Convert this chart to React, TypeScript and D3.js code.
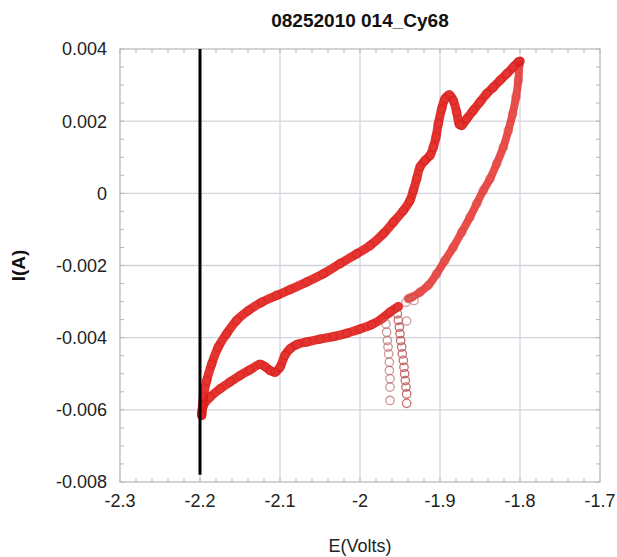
import React from "react";
import * as d3 from "d3";

const title = "08252010 014_Cy68";
const xTicks = [-2.3, -2.2, -2.1, -2.0, -1.9, -1.8, -1.7];
const xTickLabels = ["-2.3", "-2.2", "-2.1", "-2", "-1.9", "-1.8", "-1.7"];
const yTicks = [0.004, 0.002, 0, -0.002, -0.004, -0.006, -0.008];
const yTickLabels = ["0.004", "0.002", "0", "-0.002", "-0.004", "-0.006", "-0.008"];

// forward scan (upper branch), -2.2 V -> -1.8 V
const upperE = [-2.1979, -2.1958, -2.1917, -2.1854, -2.1771, -2.1667, -2.1542, -2.1396, -2.1229, -2.1042, -2.0875, -2.0667, -2.0458, -2.025, -2.0042, -1.9875, -1.9708, -1.9583, -1.9458, -1.9375, -1.9333, -1.9292, -1.925, -1.9188, -1.9125, -1.9083, -1.905, -1.9021, -1.8979, -1.8938, -1.8883, -1.8833, -1.8792, -1.8758, -1.8729, -1.8667, -1.8583, -1.85, -1.8417, -1.8333, -1.825, -1.8167, -1.8083, -1.8021, -1.8];
const upperI = [-0.00616, -0.00565, -0.00519, -0.00473, -0.00426, -0.00389, -0.00352, -0.00325, -0.00302, -0.00283, -0.00267, -0.00246, -0.00223, -0.00195, -0.00168, -0.00145, -0.00112, -0.0008, -0.00048, -0.0002, 0.00008, 0.0004, 0.00073, 0.00091, 0.00105, 0.00128, 0.00156, 0.00193, 0.00234, 0.00262, 0.00273, 0.00257, 0.00225, 0.00191, 0.00188, 0.00206, 0.0023, 0.00253, 0.00276, 0.00294, 0.00313, 0.00331, 0.0035, 0.00364, 0.00366];

// reverse scan, first segment (-1.8 V -> -1.94 V)
const lowerE1 = [-1.8008, -1.8021, -1.805, -1.8092, -1.8146, -1.8208, -1.8292, -1.8375, -1.8458, -1.8542, -1.8625, -1.8729, -1.8833, -1.8938, -1.9042, -1.9146, -1.925, -1.9354, -1.9396];
const lowerI1 = [0.00359, 0.00313, 0.00267, 0.0022, 0.00174, 0.00128, 0.00082, 0.0004, 0.00008, -0.00029, -0.00066, -0.00108, -0.00149, -0.00186, -0.00223, -0.00255, -0.00274, -0.00288, -0.00292];

// reverse scan, second segment (-1.95 V -> -2.2 V)
const lowerE2 = [-1.9521, -1.9625, -1.9729, -1.9854, -2.0, -2.0167, -2.0333, -2.05, -2.0667, -2.0792, -2.0875, -2.0938, -2.1, -2.1063, -2.1125, -2.1188, -2.125, -2.1375, -2.15, -2.1625, -2.175, -2.1875, -2.1958, -2.1979];
const lowerI2 = [-0.00314, -0.00329, -0.00348, -0.00364, -0.00376, -0.00388, -0.00397, -0.00404, -0.00412, -0.00419, -0.00431, -0.00449, -0.00482, -0.00496, -0.00491, -0.0048, -0.00474, -0.00489, -0.00505, -0.00523, -0.00542, -0.00565, -0.00588, -0.00611];

// stray vertical tails
const tailAE = [-1.9675, -1.9667, -1.9658, -1.965, -1.9642, -1.9633, -1.9633, -1.9625, -1.9625, -1.9625];
const tailAI = [-0.00362, -0.00385, -0.00408, -0.00426, -0.00445, -0.00468, -0.00491, -0.00514, -0.00537, -0.00574];
const tailBE = [-1.9533, -1.9521, -1.9508, -1.95, -1.9492, -1.9479, -1.9471, -1.9458, -1.945, -1.9442, -1.9433, -1.9425, -1.9417, -1.9417];
const tailBI = [-0.00334, -0.00352, -0.00371, -0.00389, -0.00408, -0.00426, -0.00445, -0.00463, -0.00482, -0.005, -0.00519, -0.00537, -0.00556, -0.00582];
const strayE = [-1.9417, -1.9425, -1.9325];
const strayI = [-0.00354, -0.00302, -0.00297];

const markerE = -2.2;
const markerI = [0.004, -0.0078];

const W = 617, H = 557;
const M = { left: 120, right: 600, top: 49, bottom: 482 };

export default function App() {
  const x = d3.scaleLinear().domain([-2.3, -1.7]).range([M.left, M.right]);
  const y = d3.scaleLinear().domain([-0.008, 0.004]).range([M.bottom, M.top]);
  const zip = (a: number[], b: number[]) => a.map((v, i) => [v, b[i]] as [number, number]);
  const line = d3.line<[number, number]>().x(d => x(d[0])).y(d => y(d[1])).curve(d3.curveCatmullRom.alpha(0.5));

  const upper = zip(upperE, upperI);
  const low1 = zip(lowerE1, lowerI1);
  const low2 = zip(lowerE2, lowerI2);
  const tailA = zip(tailAE, tailAI);
  const tailB = zip(tailBE, tailBI);
  const stray = zip(strayE, strayI);

  const xMinor = d3.range(-2.3, -1.6999, 0.02);
  const yMinor = d3.range(-0.008, 0.00401, 0.0005);
  const font = "Liberation Sans, Arial, Helvetica, sans-serif";
  const red = "#e3221d";

  const circles = (pts: [number, number][], stroke: string, op: number, key: string) =>
    pts.map((d, i) => (
      <circle key={key + i} cx={x(d[0])} cy={y(d[1])} r={4.2} fill="none" stroke={stroke} strokeWidth={1.3} opacity={op} />
    ));

  return (
    <svg width={W} height={H} style={{ position: "absolute", left: 0, top: 0, background: "#fff" }} fontFamily={font}>
      <rect x={0} y={0} width={W} height={H} fill="#fff" />
      {/* grid */}
      {xTicks.slice(1, -1).map((t, i) => (
        <line key={"gx" + i} x1={x(t)} x2={x(t)} y1={M.top} y2={M.bottom} stroke="#d3d3dd" strokeWidth={1.3} />
      ))}
      {yTicks.slice(1, -1).map((t, i) => (
        <line key={"gy" + i} x1={M.left} x2={M.right} y1={y(t)} y2={y(t)} stroke="#d3d3dd" strokeWidth={1.3} />
      ))}
      {/* minor ticks */}
      {xMinor.map((t, i) => (
        <g key={"mx" + i}>
          <line x1={x(t)} x2={x(t)} y1={M.bottom} y2={M.bottom - 4} stroke="#b5b5bd" />
          <line x1={x(t)} x2={x(t)} y1={M.top} y2={M.top + 4} stroke="#b5b5bd" />
        </g>
      ))}
      {yMinor.map((t, i) => (
        <g key={"my" + i}>
          <line x1={M.left} x2={M.left + 4} y1={y(t)} y2={y(t)} stroke="#b5b5bd" />
          <line x1={M.right} x2={M.right - 4} y1={y(t)} y2={y(t)} stroke="#b5b5bd" />
        </g>
      ))}
      <rect x={M.left} y={M.top} width={M.right - M.left} height={M.bottom - M.top} fill="none" stroke="#b8b8c0" strokeWidth={1.3} />

      {/* data bands */}
      <path d={line(upper) || ""} fill="none" stroke={red} strokeWidth={9} strokeLinecap="round" strokeLinejoin="round" opacity={0.92} />
      <path d={line(low2) || ""} fill="none" stroke={red} strokeWidth={9} strokeLinecap="round" strokeLinejoin="round" opacity={0.92} />
      <path d={line(low1) || ""} fill="none" stroke={red} strokeWidth={8} strokeLinecap="round" strokeLinejoin="round" opacity={0.8} />
      {circles(upper, "#c81a16", 0.45, "u")}
      {circles(low2, "#c81a16", 0.45, "l2")}
      {circles(low1, "#d04a46", 0.5, "l1")}
      {circles(tailA, "#b86a6a", 0.7, "ta")}
      {circles(tailB, "#b84a4a", 0.8, "tb")}
      {circles(stray, "#c07070", 0.7, "s")}

      {/* black marker line */}
      <line x1={x(markerE)} x2={x(markerE)} y1={y(markerI[0])} y2={y(markerI[1])} stroke="#000" strokeWidth={3} />

      {/* tick labels */}
      {xTicks.map((t, i) => (
        <text key={"xl" + i} x={x(t)} y={507} textAnchor="middle" fontSize={18} fill="#222">{xTickLabels[i]}</text>
      ))}
      {yTicks.map((t, i) => (
        <text key={"yl" + i} x={107} y={y(t)} dy="0.36em" textAnchor="end" fontSize={18} fill="#222">{yTickLabels[i]}</text>
      ))}

      <text x={(M.left + M.right) / 2} y={27} textAnchor="middle" fontSize={19} fontWeight="bold" fill="#111">{title}</text>
      <text x={(M.left + M.right) / 2} y={552} textAnchor="middle" fontSize={18} fill="#222">E(Volts)</text>
      <text transform={`translate(25,${(M.top + M.bottom) / 2}) rotate(-90)`} textAnchor="middle" fontSize={19} fontWeight="bold" fill="#111">I(A)</text>
    </svg>
  );
}
